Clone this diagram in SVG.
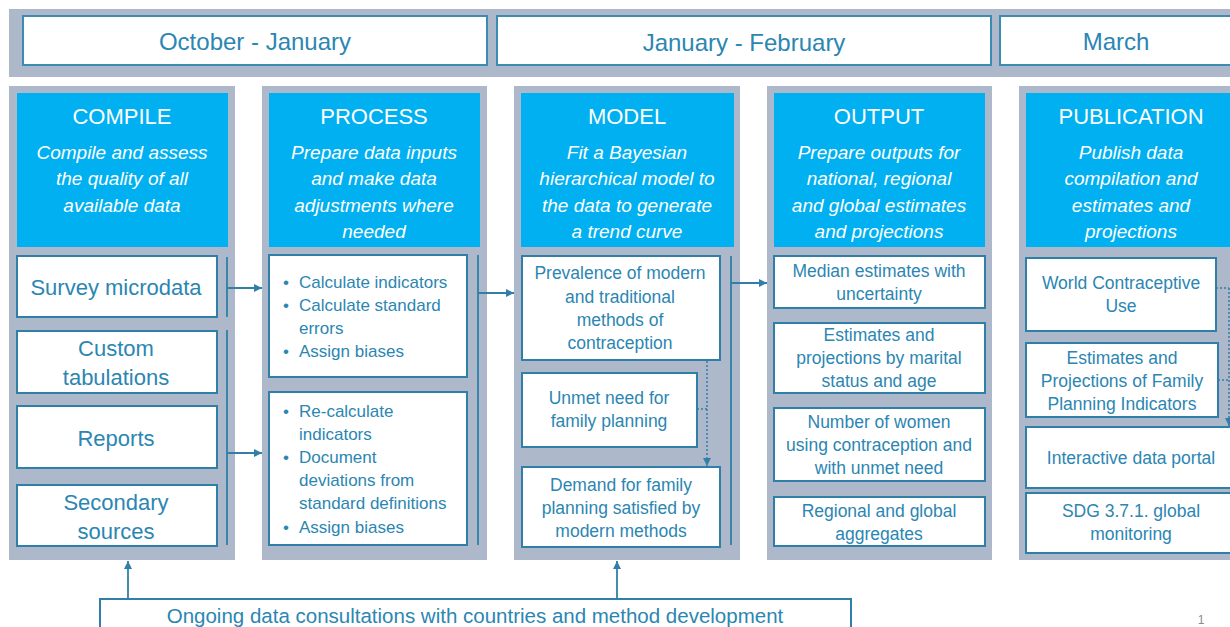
<svg xmlns="http://www.w3.org/2000/svg" width="1230" height="627" viewBox="0 0 1230 627">
<defs>
<style>
.gray{fill:#adb9ca}
.blue{fill:#00b0f0}
.box{fill:#ffffff;stroke:#2f7fa8;stroke-width:2}
.hbox{fill:#ffffff;stroke:#3a8cb3;stroke-width:2}
.t{font-family:"Liberation Sans",Arial,sans-serif;fill:#2b86b2;text-anchor:middle;dominant-baseline:central}
.h{font-size:24px}
.b22{font-size:22px}
.b17{font-size:17.5px}
.bl{font-family:"Liberation Sans",Arial,sans-serif;fill:#2b86b2;font-size:17px;dominant-baseline:central}
.ttl{font-family:"Liberation Sans",Arial,sans-serif;fill:#ffffff;font-size:22px;text-anchor:middle;dominant-baseline:central}
.sub{font-family:"Liberation Sans",Arial,sans-serif;fill:#ffffff;font-size:19px;font-style:italic;text-anchor:middle;dominant-baseline:central}
.ln{stroke:#2f7fa8;stroke-width:1.8;fill:none}
.dt{stroke:#2f7fa8;stroke-width:1.5;fill:none;stroke-dasharray:2 2}
</style>
<marker id="ah" viewBox="0 0 10 10" refX="10" refY="5" markerWidth="8" markerHeight="8" markerUnits="userSpaceOnUse" orient="auto">
<path d="M0,0 L10,5 L0,10 z" fill="#2f7fa8"/>
</marker>
</defs>
<rect width="1230" height="627" fill="#ffffff"/>

<g id="timeline">
<rect class="gray" x="9" y="9" width="1221" height="68"/>
<g id="period-oct-jan"><rect class="hbox" x="23" y="16" width="464" height="49"/><text class="t h" x="255" y="41">October - January</text></g>
<g id="period-jan-feb"><rect class="hbox" x="497" y="16" width="494" height="49"/><text class="t h" x="744" y="42">January - February</text></g>
<g id="period-march"><rect class="hbox" x="1000" y="16" width="240" height="49"/><text class="t h" x="1116" y="41">March</text></g>
</g>

<g id="col-compile">
<rect class="gray" x="9" y="86" width="226" height="474"/>
<rect class="blue" x="17" y="93" width="211" height="154"/>
<text class="ttl" x="122" y="116">COMPILE</text>
<text class="sub" x="122" y="152">Compile and assess</text>
<text class="sub" x="122" y="178">the quality of all</text>
<text class="sub" x="122" y="205">available data</text>
</g>
<g id="n-survey"><rect class="box" x="17" y="256" width="200" height="61"/><text class="t b22" x="116" y="287">Survey microdata</text></g>
<g id="n-custom"><rect class="box" x="17" y="331" width="200" height="62"/><text class="t b22" x="116" y="348">Custom</text><text class="t b22" x="116" y="377">tabulations</text></g>
<g id="n-reports"><rect class="box" x="17" y="406" width="200" height="62"/><text class="t b22" x="116" y="438">Reports</text></g>
<g id="n-secondary"><rect class="box" x="17" y="485" width="200" height="61"/><text class="t b22" x="116" y="502">Secondary</text><text class="t b22" x="116" y="531">sources</text></g>

<g id="col-process">
<rect class="gray" x="262" y="86" width="225" height="474"/>
<rect class="blue" x="269" y="93" width="211" height="154"/>
<text class="ttl" x="374" y="116">PROCESS</text>
<text class="sub" x="374" y="152">Prepare data inputs</text>
<text class="sub" x="374" y="178">and make data</text>
<text class="sub" x="374" y="205">adjustments where</text>
<text class="sub" x="374" y="231">needed</text>
</g>
<g id="n-process1"><rect class="box" x="269" y="255" width="198" height="122"/>
<text class="bl" x="283" y="282">•</text><text class="bl" x="299" y="282">Calculate indicators</text>
<text class="bl" x="283" y="305">•</text><text class="bl" x="299" y="305">Calculate standard</text>
<text class="bl" x="299" y="328">errors</text>
<text class="bl" x="283" y="351">•</text><text class="bl" x="299" y="351">Assign biases</text>
</g>
<g id="n-process2"><rect class="box" x="269" y="392" width="198" height="153"/>
<text class="bl" x="283" y="411">•</text><text class="bl" x="299" y="411">Re-calculate</text>
<text class="bl" x="299" y="434">indicators</text>
<text class="bl" x="283" y="457">•</text><text class="bl" x="299" y="457">Document</text>
<text class="bl" x="299" y="480">deviations from</text>
<text class="bl" x="299" y="503">standard definitions</text>
<text class="bl" x="283" y="527">•</text><text class="bl" x="299" y="527">Assign biases</text>
</g>

<g id="col-model">
<rect class="gray" x="514" y="86" width="226" height="474"/>
<rect class="blue" x="521" y="93" width="213" height="154"/>
<text class="ttl" x="627" y="116">MODEL</text>
<text class="sub" x="627" y="152">Fit a Bayesian</text>
<text class="sub" x="627" y="178">hierarchical model to</text>
<text class="sub" x="627" y="205">the data to generate</text>
<text class="sub" x="627" y="231">a trend curve</text>
</g>
<g id="n-prevalence"><rect class="box" x="522" y="256" width="198" height="104"/>
<text class="t b17" x="620" y="273">Prevalence of modern</text>
<text class="t b17" x="620" y="297">and traditional</text>
<text class="t b17" x="620" y="320">methods of</text>
<text class="t b17" x="620" y="343">contraception</text>
</g>
<g id="n-unmet"><rect class="box" x="522" y="373" width="175" height="74"/>
<text class="t b17" x="609" y="398">Unmet need for</text>
<text class="t b17" x="609" y="421">family planning</text>
</g>
<g id="n-demand"><rect class="box" x="522" y="467" width="198" height="80"/>
<text class="t b17" x="621" y="485">Demand for family</text>
<text class="t b17" x="621" y="508">planning satisfied by</text>
<text class="t b17" x="621" y="531">modern methods</text>
</g>

<g id="col-output">
<rect class="gray" x="767" y="86" width="225" height="474"/>
<rect class="blue" x="774" y="93" width="211" height="154"/>
<text class="ttl" x="879" y="116">OUTPUT</text>
<text class="sub" x="879" y="152">Prepare outputs for</text>
<text class="sub" x="879" y="178">national, regional</text>
<text class="sub" x="879" y="205">and global estimates</text>
<text class="sub" x="879" y="231">and projections</text>
</g>
<g id="n-median"><rect class="box" x="774" y="256" width="211" height="52"/>
<text class="t b17" x="879" y="271">Median estimates with</text>
<text class="t b17" x="879" y="294">uncertainty</text>
</g>
<g id="n-marital"><rect class="box" x="774" y="323" width="211" height="70"/>
<text class="t b17" x="879" y="335">Estimates and</text>
<text class="t b17" x="879" y="358">projections by marital</text>
<text class="t b17" x="879" y="381">status and age</text>
</g>
<g id="n-women"><rect class="box" x="774" y="408" width="211" height="73"/>
<text class="t b17" x="879" y="422">Number of women</text>
<text class="t b17" x="879" y="445">using contraception and</text>
<text class="t b17" x="879" y="468">with unmet need</text>
</g>
<g id="n-aggregates"><rect class="box" x="774" y="497" width="211" height="49"/>
<text class="t b17" x="879" y="511">Regional and global</text>
<text class="t b17" x="879" y="534">aggregates</text>
</g>

<g id="col-publication">
<rect class="gray" x="1019" y="86" width="220" height="474"/>
<rect class="blue" x="1026" y="93" width="214" height="154"/>
<text class="ttl" x="1131" y="116">PUBLICATION</text>
<text class="sub" x="1131" y="152">Publish data</text>
<text class="sub" x="1131" y="178">compilation and</text>
<text class="sub" x="1131" y="205">estimates and</text>
<text class="sub" x="1131" y="231">projections</text>
</g>
<g id="n-wcu"><rect class="box" x="1026" y="258" width="190" height="73"/>
<text class="t b17" x="1121" y="283">World Contraceptive</text>
<text class="t b17" x="1121" y="306">Use</text>
</g>
<g id="n-fpi"><rect class="box" x="1026" y="343" width="192" height="74"/>
<text class="t b17" x="1122" y="358">Estimates and</text>
<text class="t b17" x="1122" y="381">Projections of Family</text>
<text class="t b17" x="1122" y="404">Planning Indicators</text>
</g>
<g id="n-portal"><rect class="box" x="1026" y="427" width="220" height="61"/>
<text class="t b17" x="1131" y="458">Interactive data portal</text>
</g>
<g id="n-sdg"><rect class="box" x="1026" y="493" width="220" height="60"/>
<text class="t b17" x="1131" y="511">SDG 3.7.1. global</text>
<text class="t b17" x="1131" y="534">monitoring</text>
</g>

<g id="n-ongoing"><rect class="box" x="100" y="599" width="751" height="40"/>
<text class="t" style="font-size:20.5px" x="475" y="615">Ongoing data consultations with countries and method development</text>
</g>

<g id="connectors">
<line class="ln" x1="227" y1="257" x2="227" y2="317"/>
<line class="ln" x1="227" y1="330" x2="227" y2="545"/>
<line class="ln" x1="227" y1="288" x2="262" y2="288" marker-end="url(#ah)"/>
<line class="ln" x1="227" y1="453" x2="262" y2="453" marker-end="url(#ah)"/>
<line class="ln" x1="478" y1="255" x2="478" y2="545"/>
<line class="ln" x1="478" y1="293" x2="514" y2="293" marker-end="url(#ah)"/>
<line class="ln" x1="731" y1="256" x2="731" y2="545"/>
<line class="ln" x1="731" y1="283" x2="767" y2="283" marker-end="url(#ah)"/>
<line class="dt" x1="707" y1="361" x2="707" y2="466" marker-end="url(#ah)"/>
<line class="dt" x1="697" y1="409" x2="707" y2="409"/>
<line class="dt" x1="1216" y1="288" x2="1229" y2="288"/>
<line class="dt" x1="1218" y1="380" x2="1229" y2="380"/>
<line class="dt" x1="1229" y1="288" x2="1229" y2="426" marker-end="url(#ah)"/>
<line class="ln" x1="128" y1="599" x2="128" y2="561" marker-end="url(#ah)"/>
<line class="ln" x1="617" y1="599" x2="617" y2="561" marker-end="url(#ah)"/>
</g>

<text x="1201" y="620" style="font-family:'Liberation Sans',Arial,sans-serif;font-size:12px;fill:#8c8c8c;text-anchor:middle;dominant-baseline:central">1</text>
</svg>
